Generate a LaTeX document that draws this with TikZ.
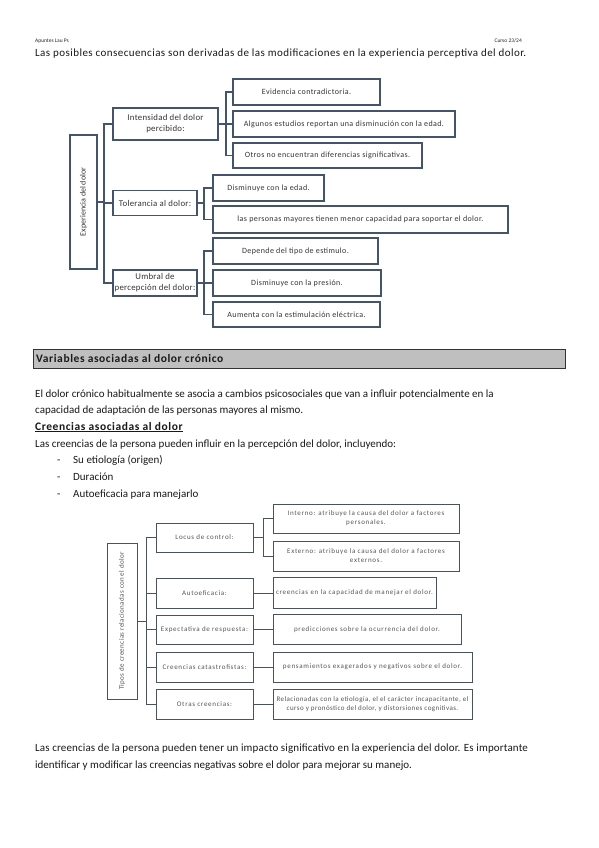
\documentclass[tikz,border=0pt]{standalone}
\usepackage{fontspec}
\setmainfont{Carlito}
\definecolor{edgeA}{HTML}{44546A}
\definecolor{edgeB}{HTML}{4A5260}
\definecolor{txtA}{HTML}{333333}
\definecolor{txtB}{HTML}{555555}
\definecolor{barfill}{HTML}{BFBFBF}
\begin{document}
\begin{tikzpicture}[x=1pt,y=-1pt,
  body/.style={anchor=base west, inner sep=0pt, text=black!90, font=\fontsize{11}{13}\selectfont},
  bodyb/.style={body, font=\fontsize{11.5}{13}\selectfont\bfseries\addfontfeature{LetterSpace=5}},
  hdr/.style={anchor=base west, inner sep=0pt, text=black!85, font=\fontsize{5.5}{6.5}\selectfont},
  boxA/.style={draw=edgeA, line width=1.3pt, fill=white, align=center, inner sep=1pt, text=txtA, font=\fontsize{8.8}{11}\selectfont\addfontfeature{LetterSpace=3}},
  boxAc/.style={boxA, font=\fontsize{8}{9.5}\selectfont\addfontfeature{LetterSpace=5}},
  boxAr/.style={boxA, font=\fontsize{8}{9.5}\selectfont},
  lineA/.style={draw=edgeA, line width=1.3pt},
  boxB/.style={draw=edgeB, line width=0.9pt, fill=white, align=center, inner sep=1pt, text=txtB, font=\fontsize{7}{9}\selectfont\addfontfeature{LetterSpace=10}},
  boxBr/.style={boxB, font=\fontsize{7}{9}\selectfont\addfontfeature{LetterSpace=5}},
  lineB/.style={draw=edgeB, line width=0.9pt}
]
\useasboundingbox (0,0) rectangle (599,848);
\fill[white] (0,0) rectangle (599,848);

% header
\node[hdr] (h1) at (35,43) {Apuntes Lau Ps};
\node[hdr, anchor=base east] (h2) at (522,43) {Curso 23/24};
\node[body, font=\fontsize{11}{13}\selectfont\addfontfeature{LetterSpace=4}] (p1) at (35,57) {Las posibles consecuencias son derivadas de las modificaciones en la experiencia perceptiva del dolor.};

% ---------- diagram 1 ----------
\node[boxAr, minimum width=134, minimum height=27, rotate=90] (main) at (83.5,202) {Experiencia del dolor};
\node[boxA, minimum width=105, minimum height=32] (ni) at (165.5,124) {Intensidad del dolor\\percibido:};
\node[boxA, minimum width=84, minimum height=25] (nt) at (155,203) {Tolerancia al dolor:};
\node[boxA, minimum width=84, minimum height=26, inner sep=0pt] (nu) at (155,283) {Umbral de\\percepción del dolor:};

\node[boxAc, minimum width=147, minimum height=26] (c1) at (306.5,92) {Evidencia contradictoria.};
\node[boxAc, minimum width=222, minimum height=26] (c2) at (344,124) {Algunos estudios reportan una disminución con la edad.};
\node[boxAc, minimum width=189, minimum height=25] (c3) at (327.5,155.5) {Otros no encuentran diferencias significativas.};
\node[boxAc, minimum width=111, minimum height=26] (d1) at (268.5,188) {Disminuye con la edad.};
\node[boxAc, minimum width=295, minimum height=27] (d2) at (360.5,219.5) {las personas mayores tienen menor capacidad para soportar el dolor.};
\node[boxAc, minimum width=165, minimum height=26] (e1) at (295.5,251) {Depende del tipo de estímulo.};
\node[boxAc, minimum width=168, minimum height=26] (e2) at (297,283) {Disminuye con la presión.};
\node[boxAc, minimum width=167, minimum height=25] (e3) at (296.5,314.5) {Aumenta con la estimulación eléctrica.};

\coordinate (tr) at (104,202);
\draw[lineA] (main.south) -- (tr);
\draw[lineA] (ni.west) -- (ni.west -| tr) -- (nu.west -| tr) -- (nu.west);
\draw[lineA] (nt.west) -- (nt.west -| tr);

\coordinate (ic) at (226,124);
\draw[lineA] (ni.east) -- (ni.east -| ic);
\draw[lineA] (c1.west) -- (c1.west -| ic) -- (c3.west -| ic) -- (c3.west);
\draw[lineA] (c2.west) -- (c2.west -| ic);

\coordinate (tc) at (204,203);
\draw[lineA] (nt.east) -- (nt.east -| tc);
\draw[lineA] (d1.west) -- (d1.west -| tc) -- (d2.west -| tc) -- (d2.west);

\coordinate (uc) at (204,283);
\draw[lineA] (nu.east) -- (nu.east -| uc);
\draw[lineA] (e1.west) -- (e1.west -| uc) -- (e3.west -| uc) -- (e3.west);
\draw[lineA] (e2.west) -- (e2.west -| uc);

% ---------- section bar ----------
\node[draw=black!80, line width=0.6pt, fill=barfill, minimum width=532, minimum height=19, anchor=north west, inner sep=0pt] (bar) at (33,349) {};
\node[bodyb] (bart) at (36,362) {Variables asociadas al dolor crónico};

\node[body] (q1) at (35,397) {El dolor crónico habitualmente se asocia a cambios psicosociales que van a influir potencialmente en la};
\node[body] (q2) at (35,413.5) {capacidad de adaptación de las personas mayores al mismo.};
\node[bodyb] (q3) at (35,430) {\underline{Creencias asociadas al dolor}};
\node[body] (q4) at (35,447) {Las creencias de la persona pueden influir en la percepción del dolor, incluyendo:};
\node[body] (l1d) at (57,463.5) {-};
\node[body] (l1) at (73,463.5) {Su etiología (origen)};
\node[body] (l2d) at (57,480) {-};
\node[body] (l2) at (73,480) {Duración};
\node[body] (l3d) at (57,497) {-};
\node[body] (l3) at (73,497) {Autoeficacia para manejarlo};

% ---------- diagram 2 ----------
\node[boxBr, minimum width=156, minimum height=30, rotate=90] (m2) at (122,621) {Tipos de creencias relacionadas con el dolor};
\node[boxB, minimum width=97, minimum height=29] (lc) at (204.5,537.5) {Locus de control:};
\node[boxB, minimum width=97, minimum height=30] (ae) at (204.5,593) {Autoeficacia:};
\node[boxB, minimum width=97, minimum height=29, inner sep=0pt] (ex) at (204.5,629.5) {Expectativa de respuesta:};
\node[boxB, minimum width=97, minimum height=30, inner sep=0pt] (cc) at (204.5,667) {Creencias catastrofistas:};
\node[boxB, minimum width=97, minimum height=30] (oc) at (204.5,704) {Otras creencias:};

\node[boxB, minimum width=186, minimum height=29] (lin) at (366,518.5) {Interno: atribuye la causa del dolor a factores\\personales.};
\node[boxB, minimum width=186, minimum height=30] (lex) at (366,556) {Externo: atribuye la causa del dolor a factores\\externos.};
\node[boxB, minimum width=163, minimum height=31] (aec) at (354.5,593) {creencias en la capacidad de manejar el dolor.};
\node[boxB, minimum width=188, minimum height=30] (exc) at (367,629.5) {predicciones sobre la ocurrencia del dolor.};
\node[boxB, minimum width=199, minimum height=30] (ccc) at (372.5,667) {pensamientos exagerados y negativos sobre el dolor.};
\node[boxB, minimum width=199, minimum height=30, inner sep=0pt, font=\fontsize{7}{9}\selectfont\addfontfeature{LetterSpace=6}] (occ) at (372.5,704) {Relacionadas con la etiología, el el carácter incapacitante, el\\curso y pronóstico del dolor, y distorsiones cognitivas.};

\coordinate (tr2) at (146,621);
\draw[lineB] (m2.south) -- (tr2);
\draw[lineB] (lc.west) -- (lc.west -| tr2) -- (oc.west -| tr2) -- (oc.west);
\draw[lineB] (ae.west) -- (ae.west -| tr2);
\draw[lineB] (ex.west) -- (ex.west -| tr2);
\draw[lineB] (cc.west) -- (cc.west -| tr2);

\coordinate (lcc) at (263,537.5);
\draw[lineB] (lc.east) -- (lcc);
\draw[lineB] (lin.west) -- (lin.west -| lcc) -- (lex.west -| lcc) -- (lex.west);
\draw[lineB] (ae.east) -- (aec.west);
\draw[lineB] (ex.east) -- (exc.west);
\draw[lineB] (cc.east) -- (ccc.west);
\draw[lineB] (oc.east) -- (occ.west);

% closing paragraph
\node[body, font=\fontsize{11}{13}\selectfont\addfontfeature{LetterSpace=1.3}] (r1) at (35,751) {Las creencias de la persona pueden tener un impacto significativo en la experiencia del dolor. Es importante};
\node[body] (r2) at (35,768) {identificar y modificar las creencias negativas sobre el dolor para mejorar su manejo.};
\end{tikzpicture}
\end{document}
